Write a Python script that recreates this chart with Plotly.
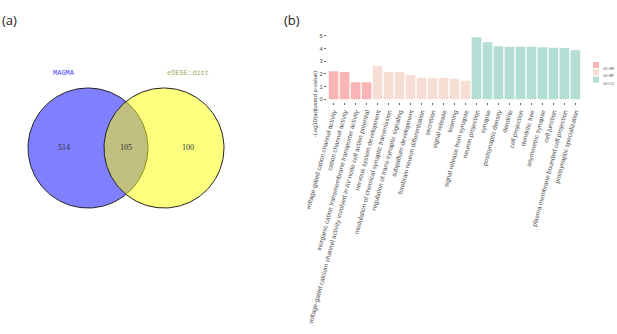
import numpy as np
import plotly.graph_objects as go

W, H = 617, 334

# ---------------- data ----------------
venn_sets = ["MAGMA", "eDESE:dist"]
venn_counts = [514, 105, 100]          # MAGMA only, shared, eDESE only
venn_set_colors = ["rgba(0,0,255,0.5)", "rgba(255,255,0,0.5)"]
venn_label_colors = ["#4646FF", "#A9A865"]

mf_terms = [
    "voltage-gated cation channel activity",
    "cation channel activity",
    "inorganic cation transmembrane transporter activity",
    "voltage-gated calcium channel activity involved in AV node cell action potential",
]
mf_values = [2.20, 2.15, 1.34, 1.34]

bp_terms = [
    "nervous system development",
    "modulation of chemical synaptic transmission",
    "regulation of trans-synaptic signaling",
    "subpallium development",
    "forebrain neuron differentiation",
    "secretion",
    "signal release",
    "learning",
    "signal release from synapse",
]
bp_values = [2.62, 2.15, 2.15, 1.91, 1.70, 1.70, 1.70, 1.62, 1.46]

cc_terms = [
    "neuron projection",
    "synapse",
    "postsynaptic density",
    "dendrite",
    "cell projection",
    "dendritic tree",
    "asymmetric synapse",
    "cell junction",
    "plasma membrane bounded cell projection",
    "postsynaptic specialization",
]
cc_values = [4.88, 4.49, 4.17, 4.12, 4.12, 4.12, 4.09, 4.06, 4.04, 3.86]

groups = ["GO:MF", "GO:BP", "GO:CC"]
group_colors = ["#F9B4B6", "#F7DED5", "#B4DDD3"]

all_terms = mf_terms + bp_terms + cc_terms

fig = go.Figure()

# ---------------- Venn (panel a) ----------------
r = 60
centers = [(88, 148), (164, 148)]
t = np.linspace(0, 2 * np.pi, 200)
for (cx, cy), col, name in zip(centers, venn_set_colors, venn_sets):
    fig.add_trace(go.Scatter(
        x=cx + r * np.cos(t), y=cy + r * np.sin(t),
        mode="lines", fill="toself", fillcolor=col,
        line=dict(color="#222222", width=1),
        xaxis="x2", yaxis="y2", showlegend=False, hoverinfo="skip", name=name))

left_edge = centers[0][0] - r
right_edge = centers[1][0] + r
ov_left = centers[1][0] - r
ov_right = centers[0][0] + r
count_x = [(left_edge + ov_left) / 2 - 2, (ov_left + ov_right) / 2, (ov_right + right_edge) / 2 + 2]
fig.add_trace(go.Scatter(
    x=count_x, y=[148] * 3, mode="text",
    text=[str(v) for v in venn_counts],
    textfont=dict(family="Liberation Serif", size=8, color="#333333"),
    xaxis="x2", yaxis="y2", showlegend=False, hoverinfo="skip"))
for i, (name, lc) in enumerate(zip(venn_sets, venn_label_colors)):
    fig.add_annotation(x=count_x[0] if i == 0 else count_x[2], y=73, xref="x2", yref="y2",
                       text=name, showarrow=False,
                       font=dict(family="Liberation Mono", size=7, color=lc))

# ---------------- Bar chart (panel b) ----------------
for terms, vals, col, g in zip([mf_terms, bp_terms, cc_terms],
                               [mf_values, bp_values, cc_values],
                               group_colors, groups):
    fig.add_trace(go.Bar(x=terms, y=vals, name=g, marker=dict(color=col, line=dict(width=0)),
                         showlegend=False))

# manual legend
for i, (g, col) in enumerate(zip(groups, group_colors)):
    yc = 65 + i * 7.3
    fig.add_shape(type="rect", xref="paper", yref="paper",
                  x0=593 / W, x1=599 / W, y0=1 - (yc + 3) / H, y1=1 - (yc - 3) / H,
                  fillcolor=col, line=dict(width=0))
    fig.add_annotation(x=601 / W, y=1 - yc / H, xref="paper", yref="paper", xanchor="left",
                       text=g, showarrow=False,
                       font=dict(family="Liberation Sans", size=3.5, color="#555555"))

# y-axis title
fig.add_annotation(x=314 / W, y=1 - 69 / H, xref="paper", yref="paper",
                   text="-Log10(adjusted p-value)", textangle=-90, showarrow=False,
                   font=dict(family="Liberation Sans", size=6, color="#444444"))

# panel labels
fig.add_annotation(x=0 / W, y=1 - 9 / H, xref="paper", yref="paper", xanchor="left",
                   text="(a)", showarrow=False,
                   font=dict(family="Open Sans", size=13, color="#222222"))
fig.add_annotation(x=282 / W, y=1 - 9 / H, xref="paper", yref="paper", xanchor="left",
                   text="(b)", showarrow=False,
                   font=dict(family="Open Sans", size=13, color="#222222"))

fig.update_layout(
    width=W, height=H,
    margin=dict(l=0, r=0, t=0, b=0, autoexpand=False),
    paper_bgcolor="white", plot_bgcolor="white",
    bargap=0.12,
    xaxis=dict(domain=[327 / W, 582 / W], range=[-0.6, 22.6], automargin=False,
               categoryorder="array", categoryarray=all_terms,
               tickangle=-75, ticks="outside", ticklen=2, tickwidth=0.6, tickcolor="#666666",
               tickfont=dict(family="Liberation Sans", size=6.4, color="#555555"),
               showgrid=False, zeroline=False, showline=False, anchor="y"),
    yaxis=dict(domain=[(H - 102.4) / H, (H - 34.1) / H], range=[-0.244, 5.124],
               automargin=False,
               tickvals=[0, 1, 2, 3, 4, 5], ticks="outside", ticklen=2, tickwidth=0.6,
               tickcolor="#666666",
               tickfont=dict(family="Liberation Sans", size=6, color="#555555"),
               showgrid=False, zeroline=False, showline=False, anchor="x"),
    xaxis2=dict(domain=[0, 300 / W], range=[0, 300], visible=False, anchor="y2",
                automargin=False),
    yaxis2=dict(domain=[0, 1], range=[H, 0], visible=False, anchor="x2",
                automargin=False),
)

fig.write_html("out.html", config={"displayModeBar": False},
               post_script="document.body.style.margin='0';document.body.style.overflow='hidden';")
